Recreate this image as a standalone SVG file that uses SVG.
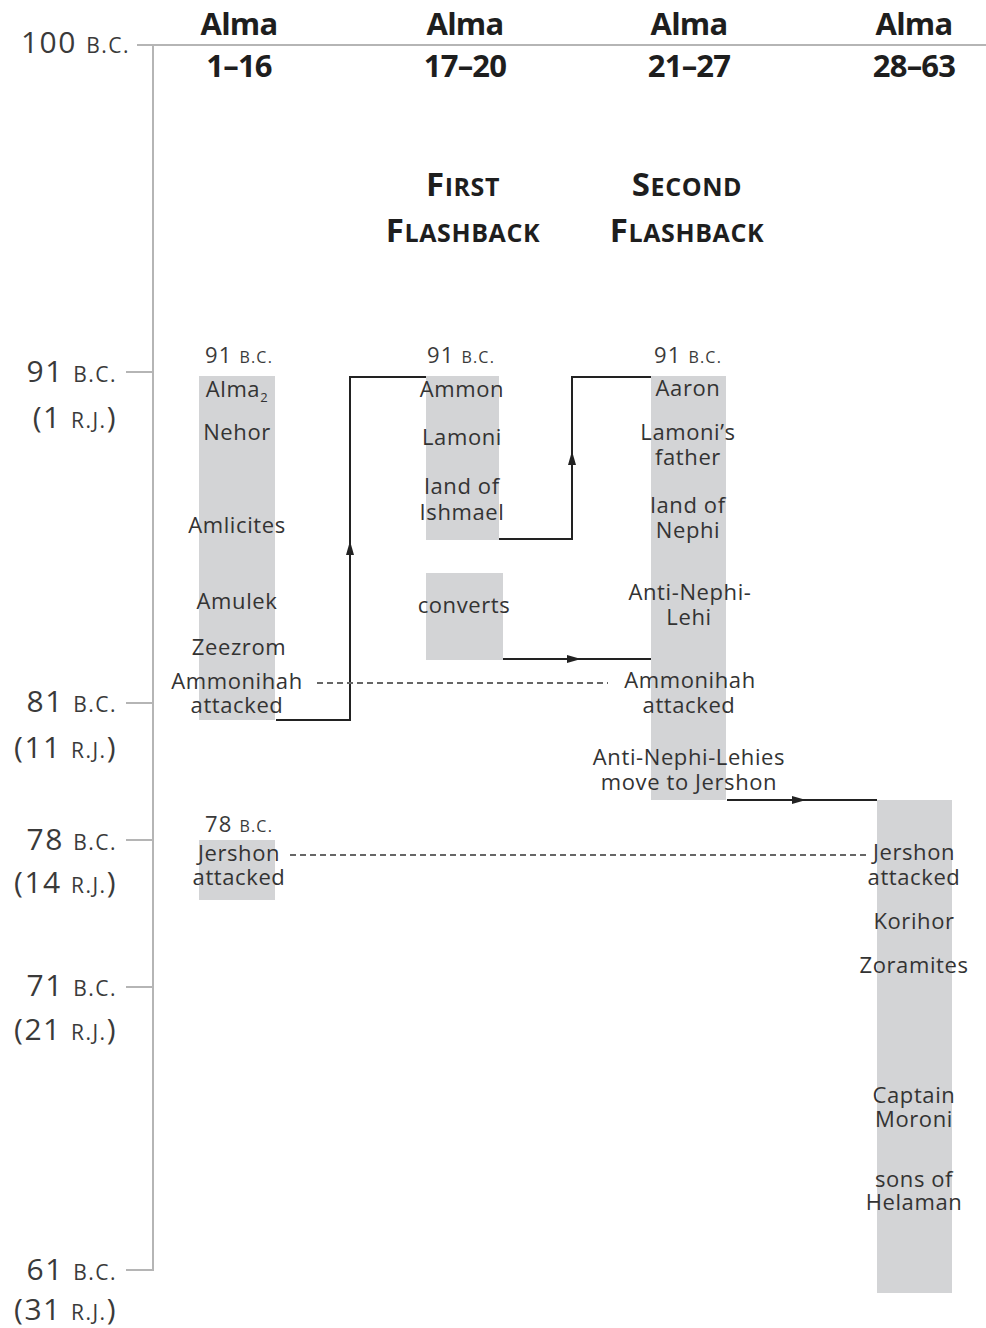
<svg xmlns="http://www.w3.org/2000/svg" width="986" height="1328" viewBox="0 0 986 1328">
<style>
  .hdr{font-family:"Open Sans","Liberation Sans",sans-serif;font-weight:bold;font-size:31px;fill:#1e1e1e;text-anchor:middle;letter-spacing:-0.8px}
  .fb{font-family:"Open Sans","Liberation Sans",sans-serif;font-weight:bold;font-size:33px;fill:#1e1e1e;text-anchor:middle;letter-spacing:0.6px}
  .sc{font-size:25px}
  .ax{font-family:"Open Sans","Liberation Sans",sans-serif;font-size:30px;fill:#3a3a3a;text-anchor:end;letter-spacing:1.5px}
  .axs{font-size:21px}
  .t{font-family:"Open Sans","Liberation Sans",sans-serif;font-size:22px;fill:#333;text-anchor:middle;letter-spacing:0.6px}
  .dt{font-family:"Open Sans","Liberation Sans",sans-serif;font-size:22px;fill:#3a3a3a;text-anchor:middle;letter-spacing:1.2px}
  .dts{font-size:16px}
  .bar{fill:#d3d4d6}
  .axis{stroke:#b5b5b5;stroke-width:2;fill:none}
  .conn{stroke:#222;stroke-width:2;fill:none}
  .dash{stroke:#666;stroke-width:2;fill:none;stroke-dasharray:6 4}
</style>
<defs>
  <marker id="ah" viewBox="0 0 14 8" refX="14" refY="4" markerWidth="14" markerHeight="8" markerUnits="userSpaceOnUse" orient="auto">
    <path d="M0,0 L14,4 L0,8 z" fill="#222"/>
  </marker>
</defs>
<rect width="986" height="1328" fill="#fff"/>

<g id="axis">
  <path class="axis" d="M137,45 H986"/>
  <path class="axis" d="M153,45 V1271"/>
  <path class="axis" d="M126,372 H153 M126,703 H153 M126,840 H153 M126,987 H153 M126,1270 H153"/>
  <text class="ax" x="130" y="53">100 <tspan class="axs">B.C.</tspan></text>
  <text class="ax" x="117" y="382">91 <tspan class="axs">B.C.</tspan></text>
  <text class="ax" x="117" y="428">(1 <tspan class="axs">R.J.</tspan>)</text>
  <text class="ax" x="117" y="712">81 <tspan class="axs">B.C.</tspan></text>
  <text class="ax" x="117" y="758">(11 <tspan class="axs">R.J.</tspan>)</text>
  <text class="ax" x="117" y="850">78 <tspan class="axs">B.C.</tspan></text>
  <text class="ax" x="117" y="893">(14 <tspan class="axs">R.J.</tspan>)</text>
  <text class="ax" x="117" y="996">71 <tspan class="axs">B.C.</tspan></text>
  <text class="ax" x="117" y="1040">(21 <tspan class="axs">R.J.</tspan>)</text>
  <text class="ax" x="117" y="1280">61 <tspan class="axs">B.C.</tspan></text>
  <text class="ax" x="117" y="1320">(31 <tspan class="axs">R.J.</tspan>)</text>
</g>

<g id="headers">
  <text class="hdr" x="239" y="35">Alma</text>
  <text class="hdr" x="239" y="77">1–16</text>
  <text class="hdr" x="465" y="35">Alma</text>
  <text class="hdr" x="465" y="77">17–20</text>
  <text class="hdr" x="689" y="35">Alma</text>
  <text class="hdr" x="689" y="77">21–27</text>
  <text class="hdr" x="914" y="35">Alma</text>
  <text class="hdr" x="914" y="77">28–63</text>
  <text class="fb" x="463" y="196">F<tspan class="sc">IRST</tspan></text>
  <text class="fb" x="463" y="242">F<tspan class="sc">LASHBACK</tspan></text>
  <text class="fb" x="687" y="196">S<tspan class="sc">ECOND</tspan></text>
  <text class="fb" x="687" y="242">F<tspan class="sc">LASHBACK</tspan></text>
</g>

<g id="col1-alma1-16">
  <rect class="bar" x="199" y="376" width="76" height="344"/>
  <text class="dt" x="239" y="363">91 <tspan class="dts">B.C.</tspan></text>
  <text class="t" x="237" y="397">Alma<tspan font-size="13" dy="5">2</tspan></text>
  <text class="t" x="237" y="440">Nehor</text>
  <text class="t" x="237" y="533">Amlicites</text>
  <text class="t" x="237" y="609">Amulek</text>
  <text class="t" x="239" y="655">Zeezrom</text>
  <text class="t" x="237" y="689">Ammonihah<tspan x="237" y="713">attacked</tspan></text>
</g>

<g id="col1-jershon">
  <rect class="bar" x="199" y="840" width="76" height="60"/>
  <text class="dt" x="239" y="832">78 <tspan class="dts">B.C.</tspan></text>
  <text class="t" x="239" y="861">Jershon<tspan x="239" y="885">attacked</tspan></text>
</g>

<g id="col2-ammon">
  <rect class="bar" x="426" y="376" width="73" height="164"/>
  <text class="dt" x="461" y="363">91 <tspan class="dts">B.C.</tspan></text>
  <text class="t" x="462" y="397">Ammon</text>
  <text class="t" x="462" y="445">Lamoni</text>
  <text class="t" x="462" y="494">land of<tspan x="462" y="520">Ishmael</tspan></text>
</g>

<g id="col2-converts">
  <rect class="bar" x="426" y="573" width="77" height="87"/>
  <text class="t" x="464" y="613">converts</text>
</g>

<g id="col3-aaron">
  <rect class="bar" x="651" y="376" width="75" height="424"/>
  <text class="dt" x="688" y="363">91 <tspan class="dts">B.C.</tspan></text>
  <text class="t" x="688" y="396">Aaron</text>
  <text class="t" x="688" y="440">Lamoni’s<tspan x="688" y="465">father</tspan></text>
  <text class="t" x="688" y="513">land of<tspan x="688" y="538">Nephi</tspan></text>
  <text class="t" x="690" y="600">Anti-Nephi-<tspan x="689" y="625">Lehi</tspan></text>
  <text class="t" x="690" y="688">Ammonihah<tspan x="689" y="713">attacked</tspan></text>
  <text class="t" x="689" y="765">Anti-Nephi-Lehies<tspan x="689" y="790">move to Jershon</tspan></text>
</g>

<g id="col4-alma28-63">
  <rect class="bar" x="877" y="800" width="75" height="493"/>
  <text class="t" x="914" y="860">Jershon<tspan x="914" y="885">attacked</tspan></text>
  <text class="t" x="914" y="929">Korihor</text>
  <text class="t" x="914" y="973">Zoramites</text>
  <text class="t" x="914" y="1103">Captain<tspan x="914" y="1127">Moroni</tspan></text>
  <text class="t" x="914" y="1187">sons of<tspan x="914" y="1210">Helaman</tspan></text>
</g>

<g id="connectors">
  <path class="conn" d="M276,720 H350 V377 H426"/>
  <path class="conn" d="M350,560 V541" marker-end="url(#ah)"/>
  <path class="conn" d="M499,539 H572 V377 H651"/>
  <path class="conn" d="M572,470 V451" marker-end="url(#ah)"/>
  <path class="conn" d="M503,659 H651"/>
  <path class="conn" d="M560,659 H581" marker-end="url(#ah)"/>
  <path class="conn" d="M727,800 H877"/>
  <path class="conn" d="M785,800 H806" marker-end="url(#ah)"/>
  <path class="dash" d="M317,683 H608"/>
  <path class="dash" d="M290,855 H866"/>
</g>
</svg>
